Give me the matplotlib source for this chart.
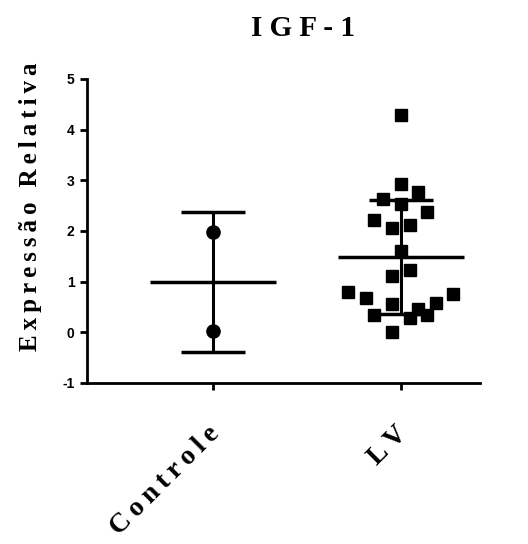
import numpy as np
import matplotlib
matplotlib.use("Agg")
import matplotlib.pyplot as plt
from matplotlib.transforms import ScaledTranslation

plt.rcParams["axes.unicode_minus"] = False

groups = ["Controle", "LV"]
controle = [1.97, 0.02]
lv = [4.28, 2.92, 2.77, 2.63, 2.54, 2.38, 2.21, 2.06, 2.11, 1.60, 1.22,
      1.12, 0.80, 0.68, 0.55, 0.75, 0.58, 0.45, 0.34, 0.29, 0.34, 0.01]
# horizontal scatter offsets (column scatter layout)
lv_dx = [0, 0, 0.092, -0.096, 0, 0.138, -0.142, -0.048, 0.046, 0, 0.046,
         -0.048, -0.282, -0.188, -0.048, 0.277, 0.184, 0.092, -0.142, 0.046, 0.138, -0.048]
ctrl_dx = [0, 0]

fig = plt.figure(figsize=(5.28, 5.44), dpi=100)
ax = fig.add_axes([0.165, 0.296, 0.744, 0.559])

serif = ["Liberation Serif", "DejaVu Serif"]
sans = "Liberation Sans"
thin = "\u2009"

data = [controle, lv]
offs = [ctrl_dx, lv_dx]
markers = ["o", "s"]
sizes = [9.5, 9]
for i, (vals, dx) in enumerate(zip(data, offs)):
    xs = i + np.array(dx)
    ax.plot(xs, vals, linestyle="none", marker=markers[i], ms=sizes[i],
            color="black", zorder=3)
    m = np.mean(vals)
    sd = np.std(vals, ddof=1)
    ax.hlines(m, i - 0.335, i + 0.335, color="black", lw=2.5, zorder=4)
    ax.vlines(i, m - sd, m + sd, color="black", lw=2.2, zorder=4)
    ax.hlines([m - sd, m + sd], i - 0.168, i + 0.168, color="black", lw=2.5, zorder=4)

ax.set_xlim(-0.67, 1.42)
ax.set_ylim(-1, 5)
ax.set_yticks(range(-1, 6))
ax.set_xticks([0, 1])
ax.set_xticklabels(["", ""])

# rotated group labels, placed under each tick
shift = ScaledTranslation(-6 / 100, -38 / 100, fig.dpi_scale_trans)
for i, g in enumerate(groups):
    ax.text(i, 0, thin.join(g), transform=ax.get_xaxis_transform() + shift,
            rotation=45, ha="right", va="top", rotation_mode="anchor",
            fontfamily=serif, fontweight="bold", fontsize=20, clip_on=False)

for lbl in ax.get_yticklabels():
    lbl.set_fontfamily(sans)
    lbl.set_fontweight("bold")
    lbl.set_fontsize(10)

ax.spines["top"].set_visible(False)
ax.spines["right"].set_visible(False)
for s in ["left", "bottom"]:
    ax.spines[s].set_linewidth(2)
ax.tick_params(axis="both", width=2, length=5, direction="out")
ax.tick_params(axis="y", pad=4)

ylab = thin.join("Expressão") + thin * 3 + thin.join("Relativa")
ax.set_ylabel(ylab, fontfamily=serif, fontweight="bold", fontsize=18)
ax.yaxis.set_label_coords(-0.115, 0.579)
fig.text(303 / 528, 1 - 28 / 544, "I G F - 1", ha="center", va="center",
         fontfamily=serif, fontweight="bold", fontsize=21)

fig.savefig("out.png", dpi=100)
